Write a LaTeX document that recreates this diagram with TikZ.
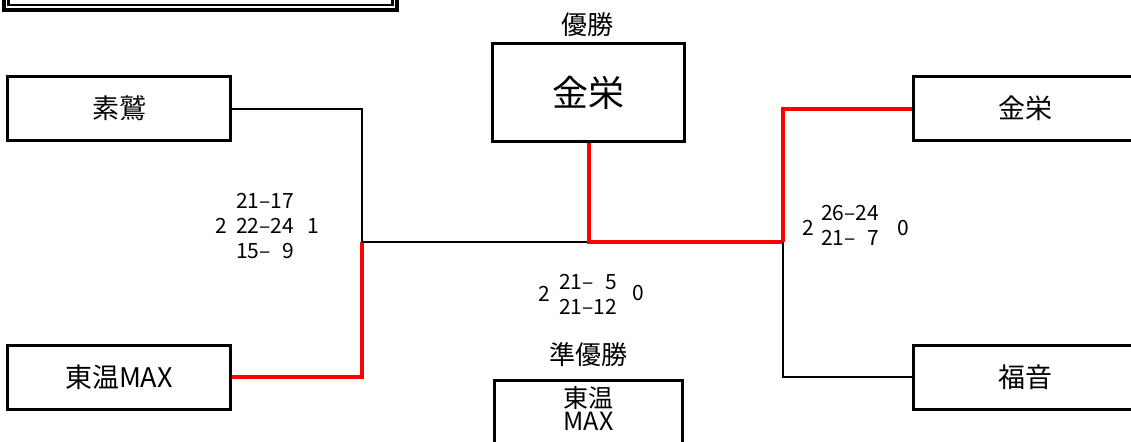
\documentclass[tikz,border=0pt]{standalone}
\usepackage{fontspec}
\setmainfont{Noto Sans CJK JP}
\usetikzlibrary{positioning}
\definecolor{winred}{HTML}{FF0000}

\begin{document}
\begin{tikzpicture}[x=0.5pt,y=-0.5pt,
  team/.style={draw,line width=1.5pt,minimum width=111.5pt,minimum height=32pt,
    inner sep=0pt,font=\fontsize{13.5}{15}\selectfont},
  champbox/.style={draw,line width=1.5pt,inner sep=0pt},
  title/.style={inner sep=0pt,font=\fontsize{13}{15}\selectfont},
  score/.style={inner sep=0pt,align=center,font=\fontsize{10.5}{12.5}\selectfont},
  link/.style={line width=1pt},
  win/.style={winred,line width=2pt}]

  \useasboundingbox (0,0) rectangle (1131,441);
  \clip (0,0) rectangle (1131,441);

  % ---- Title frame (cut off at the top) ---------------------
  \draw[line width=2pt] (3.5,-30) rectangle (396.5,9.5);
  \draw[line width=1.2pt] (8.5,-30) rectangle (392.5,5);

  % ---- Teams ------------------------------------------------
  \node[team] (sosagi) at (119,108.5) {素鷲};
  \node[team] (toon)   at (119,377)   {東温MAX};
  \node[team] (kinei)  at (1025,108.5) {金栄};
  \node[team] (fukuon) at (1025,377)   {福音};

  % ---- Champion and runner-up -------------------------------
  \node[title] (champlabel) at (587,25) {優勝};
  \node[champbox,minimum width=96pt,minimum height=49pt] (champ) at (588.5,92.5)
    {\fontsize{18}{20}\selectfont 金栄};
  \node[title] (runnerlabel) at (588,355) {準優勝};
  \node[champbox,minimum width=94pt,minimum height=55pt,anchor=north] (runnerup)
    at (588.5,379) {};
  \node[inner sep=0pt,align=center,font=\fontsize{12.5}{11.5}\selectfont] (runnername)
    at (588.5,408.5) {東温\\MAX};

  % ---- Junctions --------------------------------------------
  \coordinate (jleft)  at (362,242);
  \coordinate (jright) at (783,242);

  % ---- Connectors -------------------------------------------
  \draw[link] (sosagi.east) -| (jleft);
  \draw[win]  (toon.east) -| (jleft);
  \draw[link] (jleft) -- (champ.south |- jleft);
  \draw[win]  (champ.south) |- (jright);
  \draw[win]  (kinei.west) -| (jright);
  \draw[link] (fukuon.west) -| (jright);

  % ---- Scores -----------------------------------------------
  \node[score] (leftgames) at (265,226)
    {21–17\\22–24\\15–\hphantom{1}9};
  \node[score] (leftwin)  at (221,226) {2};
  \node[score] (leftlose) at (313,226) {1};

  \node[score] (finalgames) at (588,294) {21–\hphantom{1}5\\21–12};
  \node[score] (finalwin)  at (544,294) {2};
  \node[score] (finallose) at (638,293) {0};

  \node[score] (rightgames) at (850,225) {26–24\\21–\hphantom{1}7};
  \node[score] (rightwin)  at (808,228) {2};
  \node[score] (rightlose) at (903,228) {0};

\end{tikzpicture}
\end{document}
